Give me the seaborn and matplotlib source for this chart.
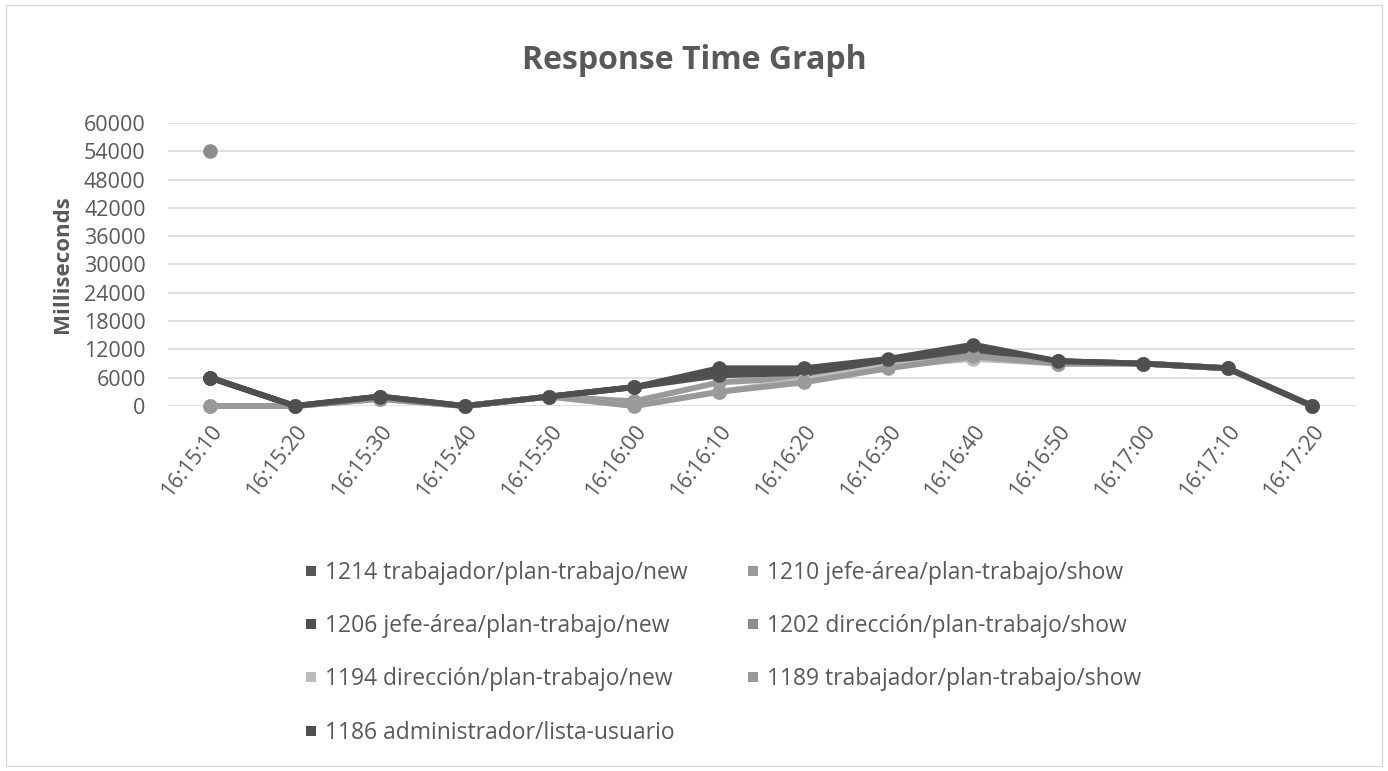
import numpy as np
import pandas as pd
import matplotlib
matplotlib.use("Agg")
import matplotlib.pyplot as plt
import seaborn as sns
from matplotlib.lines import Line2D
from matplotlib.patches import Rectangle

# data
times = ["16:15:10", "16:15:20", "16:15:30", "16:15:40", "16:15:50", "16:16:00", "16:16:10",
         "16:16:20", "16:16:30", "16:16:40", "16:16:50", "16:17:00", "16:17:10", "16:17:20"]
nan = np.nan
s1214 = [6000, 0, 2000, 0, 2000, 4000, 7000, 7500, 9500, 12500, 9500, 9000, 8000, 0]
s1210 = [0, 0, 1500, 0, 2000, 1000, 5000, 6000, 9000, 11000, 9000, 9000, 8000, 0]
s1206 = [6000, 0, 2000, 0, 2000, 4000, 6500, 7000, 9500, 12000, 9500, 9000, 8000, 0]
s1202 = [54000, nan, nan, nan, nan, nan, nan, nan, nan, nan, nan, nan, nan, nan]
s1194 = [0, 0, 1500, 0, 2000, 0, 3000, 5500, 8500, 10000, 9000, 9000, 8000, 0]
s1189 = [0, 0, 1500, 0, 2000, 0, 3000, 5000, 8000, 10500, 9000, 9000, 8000, 0]
s1186 = [6000, 0, 2000, 0, 2000, 4000, 8000, 8000, 10000, 13000, 9500, 9000, 8000, 0]

names = ["1214 trabajador/plan-trabajo/new", "1210 jefe-área/plan-trabajo/show",
         "1206 jefe-área/plan-trabajo/new", "1202 dirección/plan-trabajo/show",
         "1194 dirección/plan-trabajo/new", "1189 trabajador/plan-trabajo/show",
         "1186 administrador/lista-usuario"]
series = [s1214, s1210, s1206, s1202, s1194, s1189, s1186]
colors = ["#555555", "#9a9a9a", "#505050", "#8c8c8c", "#bdbdbd", "#999999", "#4f4f4f"]

sns.set_style("white")
plt.rcParams["font.family"] = ["Open Sans", "DejaVu Sans"]
txt = "#595959"

fig = plt.figure(figsize=(13.88, 7.71), dpi=100)
ax = fig.add_axes([0.121, 0.4734, 0.855, 0.3671])

pos = np.arange(len(times))
for name, vals, c in zip(names, series, colors):
    df = pd.DataFrame({"x": pos, "y": vals}).dropna()
    sns.lineplot(data=df, x="x", y="y", ax=ax, color=c, linewidth=4.2,
                 marker="o", markersize=10.5, markeredgewidth=0, clip_on=False, zorder=3)

ax.set_xlim(-0.5, len(times) - 0.5)
ax.set_ylim(0, 60000)
ax.set_yticks(np.arange(0, 60001, 6000))
ax.set_xticks(pos)
ax.set_xticklabels(times, rotation=52, ha="right", rotation_mode="anchor")
ax.tick_params(axis="both", labelsize=15.5, colors=txt, length=0)
ax.tick_params(axis="x", pad=11)
ax.tick_params(axis="y", pad=16)
for lbl in ax.get_xticklabels():
    lbl.set_x(lbl.get_position()[0])
ax.grid(axis="y", color="#d9d9d9", linewidth=1.2, zorder=0)
ax.set_axisbelow(True)
for s in ax.spines.values():
    s.set_visible(False)
ax.set_xlabel("")
ax.set_ylabel("Milliseconds", fontsize=16, fontweight="bold", color=txt, labelpad=8)

fig.text(0.5, 0.922, "Response Time Graph", ha="center", va="center",
         fontsize=23, fontweight="bold", color=txt)

handles = [Line2D([], [], marker="s", linestyle="none", markersize=7,
                  markerfacecolor=c, markeredgewidth=0) for c in colors]
order = [0, 2, 4, 6, 1, 3, 5]
fig.legend([handles[i] for i in order], [names[i] for i in order], ncol=2,
           loc="upper left", bbox_to_anchor=(0.22, 0.272), frameon=False,
           fontsize=16.5, labelcolor=txt, handlelength=0.5, handletextpad=0.35,
           columnspacing=2.6, labelspacing=1.27, borderaxespad=0, borderpad=0)

fig.patches.append(Rectangle((0.004, 0.006), 0.992, 0.988, transform=fig.transFigure,
                             fill=False, edgecolor="#d9d9d9", linewidth=1))

fig.savefig("out.png", dpi=100)
